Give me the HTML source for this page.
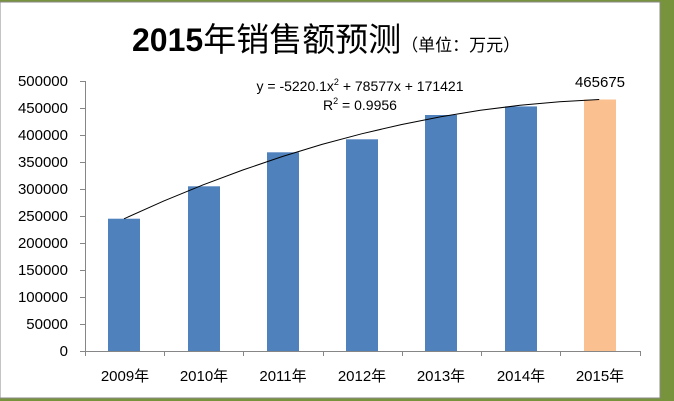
<!DOCTYPE html><html><head><meta charset="utf-8"><style>body{margin:0}svg{display:block}</style></head><body>
<svg width="674" height="401" xmlns="http://www.w3.org/2000/svg" font-family="Liberation Sans, Noto Sans CJK SC, sans-serif">
<rect width="674" height="401" fill="#77933c"/>
<rect x="0" y="2" width="660" height="396" fill="#fff" stroke="#888" stroke-width="1"/>
<text x="132" y="51" font-size="32" font-weight="bold" fill="#000">2015<tspan font-weight="normal" font-size="33">年销售额预测</tspan><tspan font-size="17" font-weight="normal">（单位：万元）</tspan></text>
<g stroke="#868686" stroke-width="1">
<line x1="85.5" y1="81" x2="85.5" y2="351"/>
<line x1="85" y1="351.5" x2="640" y2="351.5"/>
</g>
<g font-size="15" fill="#000" text-anchor="end">
<text x="68" y="86">500000</text><text x="68" y="113">450000</text><text x="68" y="140">400000</text><text x="68" y="167">350000</text><text x="68" y="194">300000</text><text x="68" y="221">250000</text><text x="68" y="248">200000</text><text x="68" y="275">150000</text><text x="68" y="302">100000</text><text x="68" y="329">50000</text><text x="68" y="356">0</text>
</g>
<g stroke="#868686">
<path d="M80 81.5h5M80 108.5h5M80 135.5h5M80 162.5h5M80 189.5h5M80 216.5h5M80 243.5h5M80 270.5h5M80 297.5h5M80 324.5h5M80 351.5h5"/>
<path d="M85.5 351v5M164.5 351v5M243.5 351v5M323.5 351v5M402.5 351v5M481.5 351v5M560.5 351v5M640.5 351v5"/>
</g>
<g fill="#4f81bd">
<rect x="108" y="218.7" width="32" height="132.3"/>
<rect x="188" y="186.3" width="32" height="164.7"/>
<rect x="267" y="152.3" width="32" height="198.7"/>
<rect x="346" y="139.3" width="32" height="211.7"/>
<rect x="425" y="115" width="32" height="236"/>
<rect x="505" y="106.4" width="32" height="244.6"/>
</g>
<rect x="584" y="99.5" width="32" height="251.5" fill="#fac090"/>
<polyline fill="none" stroke="#000" stroke-width="1" points="124,218.8 163.6,201.1 203.2,184.8 242.8,170 282.4,156.5 322,144.4 361.6,133.8 401.2,124.6 440.8,116.7 480.4,110.3 520,105.3 559.6,101.7 599.2,99.5"/>
<g font-size="15" fill="#000" text-anchor="middle">
<text x="125" y="381">2009年</text><text x="204" y="381">2010年</text><text x="283" y="381">2011年</text><text x="362" y="381">2012年</text><text x="441" y="381">2013年</text><text x="521" y="381">2014年</text><text x="600" y="381">2015年</text>
<text x="600" y="87">465675</text>
<text x="360" y="91" font-size="14">y = -5220.1x<tspan font-size="9" dy="-6">2</tspan><tspan dy="6"> + 78577x + 171421</tspan></text>
<text x="360" y="110" font-size="14">R<tspan font-size="9" dy="-6">2</tspan><tspan dy="6"> = 0.9956</tspan></text>
</g>
</svg>
</body></html>
